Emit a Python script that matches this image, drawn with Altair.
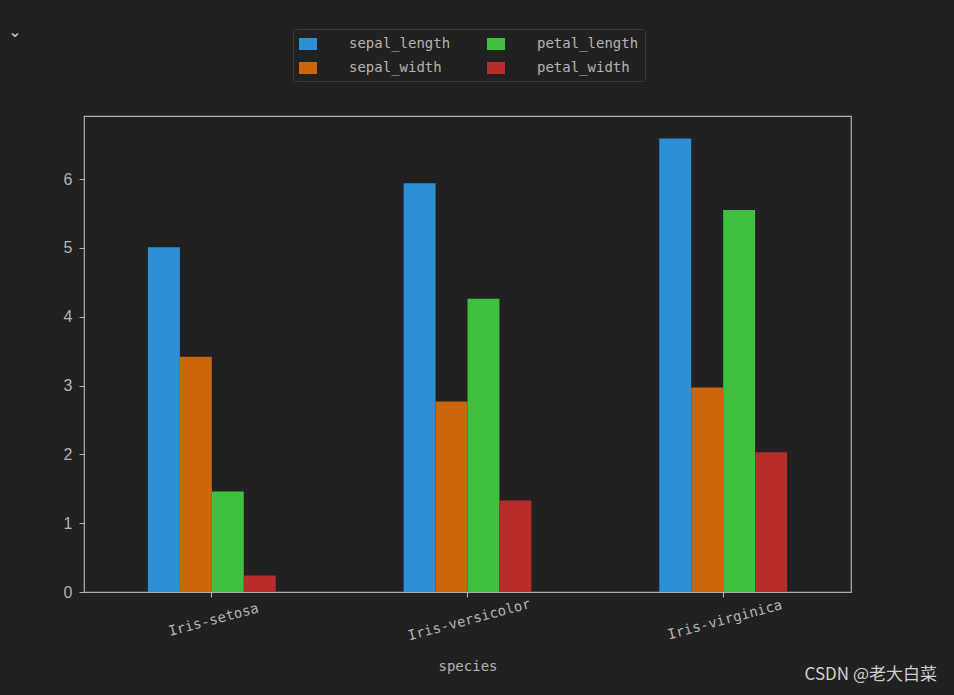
import altair as alt
import pandas as pd

species = ["Iris-setosa", "Iris-versicolor", "Iris-virginica"]
measures = ["sepal_length", "sepal_width", "petal_length", "petal_width"]
sepal_length = [5.01, 5.94, 6.59]
sepal_width = [3.42, 2.77, 2.97]
petal_length = [1.46, 4.26, 5.55]
petal_width = [0.24, 1.33, 2.03]
colors = ["#2e8fd4", "#cc660a", "#40c040", "#b82c2c"]

series = {"sepal_length": sepal_length, "sepal_width": sepal_width,
          "petal_length": petal_length, "petal_width": petal_width}
rows = []
for m in measures:
    for s, v in zip(species, series[m]):
        rows.append({"species": s, "measure": m, "value": v})
df = pd.DataFrame(rows)

FG = "#b4b4b4"
MONO = "DejaVu Sans Mono"

bars = alt.Chart(df).mark_bar().encode(
    x=alt.X("species:N", sort=species, title="species",
            scale=alt.Scale(paddingInner=0.5, paddingOuter=0.25),
            axis=alt.Axis(labelAngle=-15, labelAlign="center", labelBaseline="top",
                          labelFont=MONO, labelFontSize=14, labelColor=FG,
                          tickColor=FG, tickSize=5, labelPadding=16,
                          domain=False, titleFont=MONO, titleFontSize=14,
                          titleColor=FG, titleFontWeight="normal", titlePadding=17)),
    xOffset=alt.XOffset("measure:N", sort=measures,
                        scale=alt.Scale(paddingInner=0, paddingOuter=0)),
    y=alt.Y("value:Q", title=None,
            scale=alt.Scale(domain=[0, 6.917], nice=False, zero=True),
            axis=alt.Axis(values=[0, 1, 2, 3, 4, 5, 6], grid=False, domain=False,
                          labelFont="Liberation Sans", labelFontSize=16,
                          labelColor=FG, tickColor=FG, tickSize=5, labelPadding=7)),
    color=alt.Color("measure:N",
                    scale=alt.Scale(domain=measures, range=colors),
                    legend=alt.Legend(title=None, orient="none", legendX=209, legendY=-87,
                                      columns=2, columnPadding=36, rowPadding=8,
                                      symbolType="M-1,-0.67H1V0.67H-1Z", symbolSize=324,
                                      symbolStrokeWidth=0, labelOffset=32,
                                      labelFont=MONO, labelFontSize=14, labelColor=FG,
                                      fillColor="#212121", strokeColor="#3c3c3c",
                                      padding=6, cornerRadius=3)),
)

chev = alt.Chart(pd.DataFrame({"t": ["⌄"]})).mark_text(
    font="DejaVu Sans", fontSize=16, color="#c8c8c8", align="center", baseline="middle"
).encode(x=alt.value(-69), y=alt.value(-84), text="t:N")

mark = alt.Chart(pd.DataFrame({"t": ["CSDN @老大白菜"]})).mark_text(
    font="Noto Sans CJK SC", fontSize=17, color="#d0d0d0", align="right", baseline="middle"
).encode(x=alt.value(853), y=alt.value(559), text="t:N")

chart = alt.layer(bars, chev, mark).properties(
    width=767, height=476,
    autosize=alt.AutoSizeParams(type="none"),
    padding={"left": 84, "top": 116, "right": 103, "bottom": 103},
    background="#212121",
).configure_view(stroke="#b0b0b0", strokeWidth=1.2, fill="#212121")

chart.save("out.html", embed_options={"renderer": "svg", "actions": False})
